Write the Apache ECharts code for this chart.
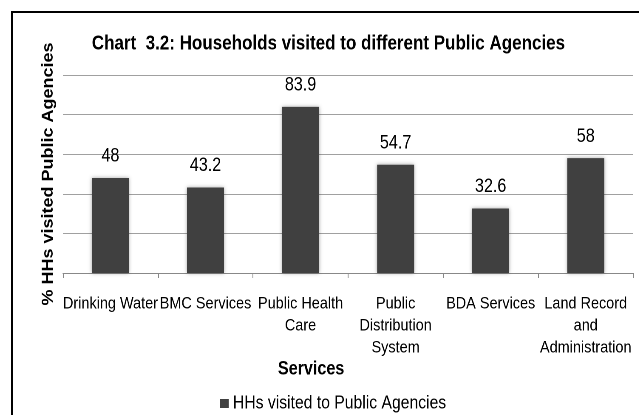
<!DOCTYPE html>
<html>
<head>
<meta charset="utf-8">
<script src="https://cdn.jsdelivr.net/npm/echarts@6/dist/echarts.min.js"></script>
<style>
  html, body { margin: 0; padding: 0; background: #fff; overflow: hidden; }
  /* The chart is laid out wider and squeezed horizontally so that its
     Liberation Sans text takes on a narrow, condensed look. */
  #wrap { width: 639px; height: 415px; overflow: hidden; }
  #chart { width: 752px; height: 415px; transform: scaleX(0.85); transform-origin: 0 0; }
</style>
</head>
<body>
<div id="wrap"><div id="chart"></div></div>
<script>
// Services surveyed and share of households that visited each one (%)
const categories = [
  'Drinking Water',
  'BMC Services',
  'Public Health\nCare',
  'Public\nDistribution\nSystem',
  'BDA Services',
  'Land Record\nand\nAdministration'
];
const visited = [48, 43.2, 83.9, 54.7, 32.6, 58];
const seriesName = 'HHs visited to Public Agencies';

const fontFamily = "'Liberation Sans', Arial, sans-serif";
const barColor = '#404040';

const chart = echarts.init(document.getElementById('chart'), null, {
  renderer: 'canvas',
  devicePixelRatio: 2
});
chart.setOption({
  backgroundColor: '#fff',
  animation: false,
  title: {
    text: 'Chart  3.2: Households visited to different Public Agencies',
    left: 108,
    top: 34,
    padding: 0,
    textStyle: { fontFamily: fontFamily, fontWeight: 'bold', fontSize: 20, color: '#000' }
  },
  graphic: [{
    type: 'rect',
    shape: { x: 14, y: 12, width: 900, height: 500 },
    style: { fill: 'none', stroke: '#000', lineWidth: 2 },
    silent: true
  }],
  legend: {
    data: [seriesName],
    left: 259,
    top: 394,
    padding: 0,
    icon: 'rect',
    itemWidth: 10,
    itemHeight: 9,
    textStyle: { fontFamily: fontFamily, fontSize: 18.5, color: '#000' }
  },
  grid: { left: 74, right: 7, top: 75, bottom: 142, containLabel: false },
  xAxis: {
    type: 'category',
    data: categories,
    name: 'Services',
    nameLocation: 'middle',
    nameGap: 80,
    nameTextStyle: { fontFamily: fontFamily, fontWeight: 'bold', fontSize: 19, color: '#000', padding: [0, 87, 0, 0] },
    axisLine: { lineStyle: { color: '#888', width: 1 } },
    axisTick: { show: true, alignWithLabel: false, length: 5, lineStyle: { color: '#888' } },
    axisLabel: { interval: 0, margin: 20, fontFamily: fontFamily, fontSize: 17, lineHeight: 22, color: '#000' }
  },
  yAxis: {
    type: 'value',
    min: 0,
    max: 100,
    interval: 20,
    name: '% HHs visited Public Agencies',
    nameLocation: 'middle',
    nameRotate: 90,
    nameGap: 8,
    nameTextStyle: { fontFamily: fontFamily, fontWeight: 'bold', fontSize: 18, color: '#000' },
    axisLine: { show: false },
    axisTick: { show: false },
    axisLabel: { show: false },
    splitLine: { lineStyle: { color: '#a0a0a0', width: 1 } }
  },
  series: [{
    name: seriesName,
    type: 'bar',
    data: visited,
    barWidth: 43.5,
    itemStyle: {
      color: barColor,
      shadowColor: 'rgba(0,0,0,0.35)',
      shadowBlur: 4
    },
    label: {
      show: true,
      position: 'top',
      distance: 12,
      fontFamily: fontFamily,
      fontSize: 19,
      color: '#000'
    }
  }]
});
</script>
</body>
</html>
